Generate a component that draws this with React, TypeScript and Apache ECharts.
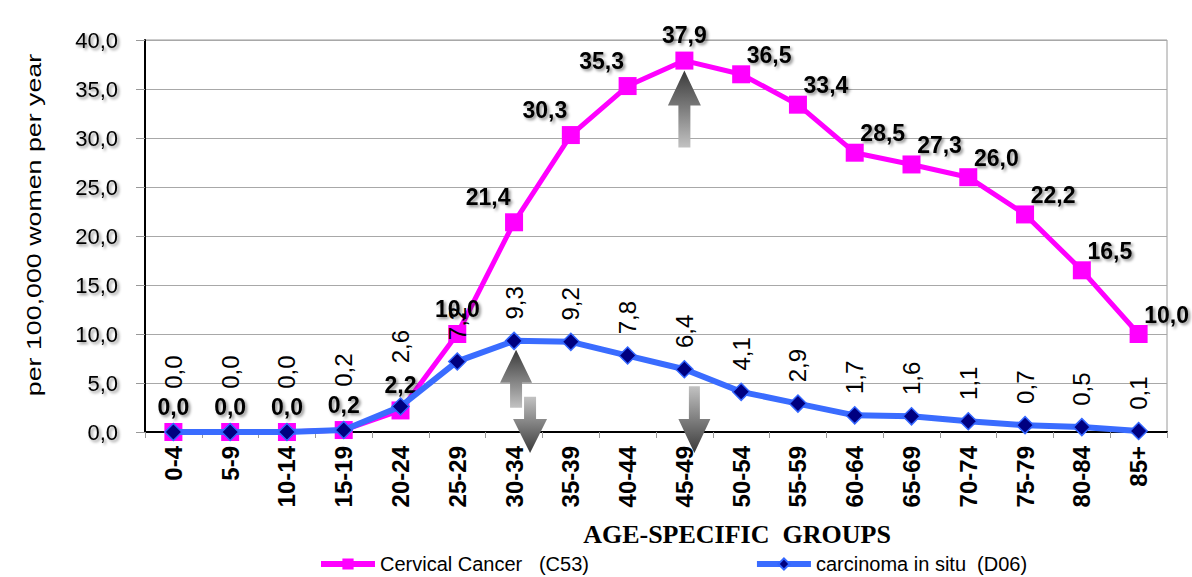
import React, { useEffect, useRef } from "react";
import * as echarts from "echarts";

const categories = ["0-4", "5-9", "10-14", "15-19", "20-24", "25-29", "30-34", "35-39", "40-44", "45-49", "50-54", "55-59", "60-64", "65-69", "70-74", "75-79", "80-84", "85+"];
const cervicalCancer = [0.0, 0.0, 0.0, 0.2, 2.2, 10.0, 21.4, 30.3, 35.3, 37.9, 36.5, 33.4, 28.5, 27.3, 26.0, 22.2, 16.5, 10.0];
const carcinomaInSitu = [0.0, 0.0, 0.0, 0.2, 2.6, 7.2, 9.3, 9.2, 7.8, 6.4, 4.1, 2.9, 1.7, 1.6, 1.1, 0.7, 0.5, 0.1];
const seriesNames = ["Cervical Cancer   (C53)", "carcinoma in situ  (D06)"];
const xTitle = "AGE-SPECIFIC  GROUPS";
const yTitle = "per 100,000 women per year";

const SANS = '"Liberation Sans", Arial, sans-serif';

const fmt = (v: number) => v.toFixed(1).replace(".", ",");

const shadow = {
  textShadowColor: "rgba(0,0,0,0.45)",
  textShadowBlur: 3,
  textShadowOffsetX: 2,
  textShadowOffsetY: 2,
};

function arrowPoints(cx: number, tipY: number, tailY: number, headH: number, headW: number, shaftW: number) {
  const d = tailY > tipY ? 1 : -1;
  const hb = tipY + d * headH;
  return [
    [cx, tipY],
    [cx + headW / 2, hb],
    [cx + shaftW / 2, hb],
    [cx + shaftW / 2, tailY],
    [cx - shaftW / 2, tailY],
    [cx - shaftW / 2, hb],
    [cx - headW / 2, hb],
  ];
}

function arrow(cx: number, tipY: number, tailY: number, headH: number, headW: number, shaftW: number) {
  const up = tailY > tipY;
  const dark = "#3a3a3a";
  const light = "#c2c2c2";
  return {
    type: "polygon",
    z: 100,
    shape: { points: arrowPoints(cx, tipY, tailY, headH, headW, shaftW) },
    style: {
      fill: new echarts.graphic.LinearGradient(0, 0, 0, 1, [
        { offset: 0, color: up ? dark : light },
        { offset: 1, color: up ? light : dark },
      ]),
    },
  };
}

export default function App() {
  const ref = useRef<HTMLDivElement>(null);

  useEffect(() => {
    if (!ref.current) return;
    const chart = echarts.init(ref.current, undefined, { renderer: "svg" });

    const peakIdx = cervicalCancer.indexOf(Math.max(...cervicalCancer));
    const pinkOffset = (i: number) => {
      const v = cervicalCancer[i];
      if (v < 12 && i < peakIdx) return [0, 0];
      if (i < peakIdx) return [-26, 0];
      if (i === peakIdx) return [0, 0];
      return [28, 6];
    };

    const pinkData = cervicalCancer.map((v, i) => ({ value: v, label: { offset: pinkOffset(i) } }));
    const blueData = carcinomaInSitu.map((v, i) => ({
      value: v,
      label: { distance: Math.abs(cervicalCancer[i] - v) < 2.5 ? 34 : 12 },
    }));

    chart.setOption({
      animation: false,
      backgroundColor: "#ffffff",
      grid: { left: 145, right: 25, top: 40, bottom: 145, show: true, borderColor: "#9a9a9a", borderWidth: 1 },
      xAxis: {
        type: "category",
        data: categories,
        boundaryGap: true,
        axisLine: { lineStyle: { color: "#000", width: 2 } },
        axisTick: { show: true, interval: 0, length: 6, lineStyle: { color: "#999" } },
        axisLabel: {
          interval: 0,
          rotate: 90,
          margin: 14,
          fontFamily: SANS,
          fontWeight: "bold",
          fontSize: 24,
          color: "#000",
        },
        splitLine: { show: false },
      },
      yAxis: {
        type: "value",
        min: 0,
        max: 40,
        interval: 5,
        axisLine: { show: true, lineStyle: { color: "#000", width: 2 } },
        axisTick: { show: true, length: 9, lineStyle: { color: "#999" } },
        axisLabel: {
          formatter: (v: number) => fmt(v),
          margin: 27,
          fontFamily: SANS,
          fontSize: 22,
          color: "#000",
          ...shadow,
        },
        splitLine: { lineStyle: { color: "#a8a8a8", width: 1 } },
      },
      legend: {
        left: 318,
        top: 554,
        padding: 0,
        itemWidth: 54,
        itemHeight: 14,
        itemGap: 165,
        lineStyle: { width: 6 },
        textStyle: { fontFamily: SANS, fontSize: 20, color: "#000" },
        data: seriesNames,
      },
      series: [
        {
          name: seriesNames[0],
          type: "line",
          data: pinkData,
          symbol: "rect",
          symbolSize: 18,
          itemStyle: { color: "#ff00ff" },
          lineStyle: { color: "#ff00ff", width: 5 },
          label: {
            show: true,
            position: "top",
            distance: 5,
            formatter: (p: any) => fmt(p.value),
            fontFamily: SANS,
            fontWeight: "bold",
            fontSize: 23,
            color: "#000",
            ...shadow,
          },
          z: 2,
        },
        {
          name: seriesNames[1],
          type: "line",
          data: blueData,
          symbol: "diamond",
          symbolSize: 17,
          itemStyle: { color: "#000080", borderColor: "#3366ff", borderWidth: 1.5 },
          lineStyle: { color: "#3a6cff", width: 6 },
          label: {
            show: true,
            position: "top",
            rotate: 90,
            align: "left",
            verticalAlign: "middle",
            distance: 12,
            formatter: (p: any) => fmt(p.value),
            fontFamily: SANS,
            fontSize: 24,
            color: "#000",
          },
          z: 3,
        },
      ],
    });

    const px = (i: number, v: number) =>
      chart.convertToPixel({ xAxisIndex: 0, yAxisIndex: 0 }, [i, v]) as number[];

    const blueIdx = carcinomaInSitu.indexOf(Math.max(...carcinomaInSitu));
    const pPeak = px(peakIdx, cervicalCancer[peakIdx]);
    const bPeak = px(blueIdx, carcinomaInSitu[blueIdx]);
    const bAtPinkPeak = px(peakIdx, carcinomaInSitu[peakIdx]);
    const base = px(0, 0)[1];

    chart.setOption({
      graphic: [
        {
          type: "text",
          x: 34,
          y: 225,
          rotation: Math.PI / 2,
          scaleX: 1.34,
          z: 100,
          style: {
            text: yTitle,
            fill: "#000",
            font: '20px "Liberation Sans", Arial, sans-serif',
            textAlign: "center",
            textVerticalAlign: "middle",
          },
        },
        {
          type: "text",
          x: 737,
          y: 534,
          z: 100,
          style: {
            text: xTitle,
            fill: "#000",
            font: 'bold 26px "Liberation Serif", "Times New Roman", serif',
            textAlign: "center",
            textVerticalAlign: "middle",
          },
        },
        arrow(pPeak[0], pPeak[1] + 10, pPeak[1] + 87, 35, 33, 12),
        arrow(bPeak[0] + 2, bPeak[1] + 9, bPeak[1] + 67, 33, 32, 12),
        arrow(bPeak[0] + 16, base + 21, bPeak[1] + 56, 34, 34, 12),
        arrow(bAtPinkPeak[0] + 10, base + 21, bAtPinkPeak[1] + 17, 34, 32, 11),
      ],
    });

    return () => chart.dispose();
  }, []);

  return (
    <div
      ref={ref}
      style={{ position: "fixed", left: 0, top: 0, width: 1192, height: 577 }}
    />
  );
}
